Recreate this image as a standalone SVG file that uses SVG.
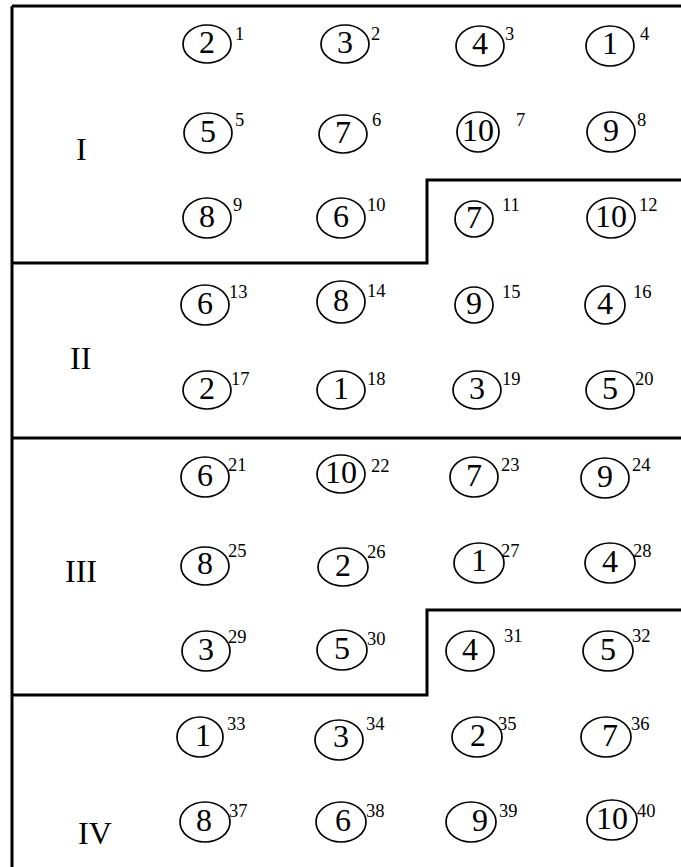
<svg xmlns="http://www.w3.org/2000/svg" width="681" height="867" viewBox="0 0 681 867">
<style>
.b{fill:none;stroke:#000;stroke-width:3}
.e{fill:none;stroke:#000;stroke-width:1.7}
.d{font-family:"Liberation Serif","Times New Roman",serif;font-size:32px;text-anchor:middle;fill:#000}
.s{font-family:"Liberation Serif","Times New Roman",serif;font-size:18.5px;fill:#000}
.r{font-family:"Liberation Serif","Times New Roman",serif;font-size:32px;fill:#000}
</style>
<rect width="681" height="867" fill="#fff"/>
<g id="frame">
<path class="b" d="M12,6 H681 M12,6 V867"/>
<path class="b" d="M12,263 H427 V180 H681"/>
<path class="b" d="M12,438 H681"/>
<path class="b" d="M12,695 H427 V610 H681"/>
</g>
<g id="labels">
<text class="r" x="76" y="160">I</text>
<text class="r" x="70" y="369">II</text>
<text class="r" x="65" y="582">III</text>
<text class="r" x="78" y="844">IV</text>
</g>
<g id="n1"><ellipse class="e" cx="207" cy="44" rx="24" ry="19"/><text class="d" x="207" y="53">2</text><text class="s" x="235" y="40">1</text></g>
<g id="n2"><ellipse class="e" cx="345" cy="44" rx="24" ry="19"/><text class="d" x="345" y="53">3</text><text class="s" x="371" y="40">2</text></g>
<g id="n3"><ellipse class="e" cx="480" cy="46" rx="24" ry="20"/><text class="d" x="480" y="54">4</text><text class="s" x="505" y="40">3</text></g>
<g id="n4"><ellipse class="e" cx="610" cy="46" rx="24" ry="20"/><text class="d" x="610" y="54">1</text><text class="s" x="640" y="40">4</text></g>
<g id="n5"><ellipse class="e" cx="208" cy="133" rx="24" ry="20"/><text class="d" x="208" y="142">5</text><text class="s" x="235" y="126">5</text></g>
<g id="n6"><ellipse class="e" cx="343" cy="134" rx="24" ry="19"/><text class="d" x="343" y="143">7</text><text class="s" x="372" y="126">6</text></g>
<g id="n7"><ellipse class="e" cx="478" cy="132" rx="21" ry="20"/><text class="d" x="478" y="141">10</text><text class="s" x="516" y="126">7</text></g>
<g id="n8"><ellipse class="e" cx="611" cy="132" rx="24" ry="20"/><text class="d" x="611" y="141">9</text><text class="s" x="637" y="126">8</text></g>
<g id="n9"><ellipse class="e" cx="207" cy="218" rx="24" ry="20"/><text class="d" x="207" y="227">8</text><text class="s" x="233" y="211">9</text></g>
<g id="n10"><ellipse class="e" cx="341" cy="218" rx="24" ry="20"/><text class="d" x="341" y="227">6</text><text class="s" x="367" y="211">10</text></g>
<g id="n11"><ellipse class="e" cx="474" cy="219" rx="19" ry="18"/><text class="d" x="474" y="228">7</text><text class="s" x="502" y="211">11</text></g>
<g id="n12"><ellipse class="e" cx="611" cy="218" rx="24" ry="20"/><text class="d" x="611" y="227">10</text><text class="s" x="639" y="211">12</text></g>
<g id="n13"><ellipse class="e" cx="205" cy="305" rx="24" ry="20"/><text class="d" x="205" y="314">6</text><text class="s" x="229" y="298">13</text></g>
<g id="n14"><ellipse class="e" cx="341" cy="302" rx="24" ry="21"/><text class="d" x="341" y="311">8</text><text class="s" x="367" y="297">14</text></g>
<g id="n15"><ellipse class="e" cx="474" cy="305" rx="19" ry="18"/><text class="d" x="474" y="314">9</text><text class="s" x="502" y="298">15</text></g>
<g id="n16"><ellipse class="e" cx="605" cy="305" rx="20" ry="19"/><text class="d" x="605" y="314">4</text><text class="s" x="633" y="298">16</text></g>
<g id="n17"><ellipse class="e" cx="207" cy="390" rx="24" ry="19"/><text class="d" x="207" y="399">2</text><text class="s" x="231" y="385">17</text></g>
<g id="n18"><ellipse class="e" cx="341" cy="390" rx="24" ry="19"/><text class="d" x="341" y="399">1</text><text class="s" x="367" y="385">18</text></g>
<g id="n19"><ellipse class="e" cx="477" cy="390" rx="24" ry="19"/><text class="d" x="477" y="399">3</text><text class="s" x="502" y="385">19</text></g>
<g id="n20"><ellipse class="e" cx="610" cy="390" rx="24" ry="19"/><text class="d" x="610" y="399">5</text><text class="s" x="635" y="385">20</text></g>
<g id="n21"><ellipse class="e" cx="205" cy="477" rx="24" ry="20"/><text class="d" x="205" y="486">6</text><text class="s" x="228" y="471">21</text></g>
<g id="n22"><ellipse class="e" cx="341" cy="474" rx="24" ry="19"/><text class="d" x="341" y="483">10</text><text class="s" x="371" y="472">22</text></g>
<g id="n23"><ellipse class="e" cx="474" cy="477" rx="24" ry="20"/><text class="d" x="474" y="486">7</text><text class="s" x="501" y="471">23</text></g>
<g id="n24"><ellipse class="e" cx="605" cy="478" rx="24" ry="20"/><text class="d" x="605" y="487">9</text><text class="s" x="632" y="471">24</text></g>
<g id="n25"><ellipse class="e" cx="205" cy="566" rx="24" ry="19"/><text class="d" x="205" y="574">8</text><text class="s" x="228" y="557">25</text></g>
<g id="n26"><ellipse class="e" cx="343" cy="567" rx="25" ry="19"/><text class="d" x="343" y="576">2</text><text class="s" x="367" y="558">26</text></g>
<g id="n27"><ellipse class="e" cx="479" cy="563" rx="25" ry="20"/><text class="d" x="479" y="571">1</text><text class="s" x="501" y="557">27</text></g>
<g id="n28"><ellipse class="e" cx="610" cy="563" rx="25" ry="20"/><text class="d" x="610" y="572">4</text><text class="s" x="633" y="557">28</text></g>
<g id="n29"><ellipse class="e" cx="206" cy="651" rx="24" ry="20"/><text class="d" x="206" y="660">3</text><text class="s" x="228" y="643">29</text></g>
<g id="n30"><ellipse class="e" cx="342" cy="650" rx="25" ry="20"/><text class="d" x="342" y="659">5</text><text class="s" x="367" y="645">30</text></g>
<g id="n31"><ellipse class="e" cx="470" cy="651" rx="24" ry="20"/><text class="d" x="470" y="660">4</text><text class="s" x="504" y="642">31</text></g>
<g id="n32"><ellipse class="e" cx="608" cy="651" rx="25" ry="20"/><text class="d" x="608" y="660">5</text><text class="s" x="632" y="642">32</text></g>
<g id="n33"><ellipse class="e" cx="200" cy="737" rx="23" ry="20"/><text class="d" x="203" y="746">1</text><text class="s" x="227" y="730">33</text></g>
<g id="n34"><ellipse class="e" cx="339" cy="740" rx="24" ry="20"/><text class="d" x="341" y="747">3</text><text class="s" x="366" y="730">34</text></g>
<g id="n35"><ellipse class="e" cx="477" cy="737" rx="25" ry="20"/><text class="d" x="478" y="746">2</text><text class="s" x="498" y="730">35</text></g>
<g id="n36"><ellipse class="e" cx="606" cy="737" rx="25" ry="20"/><text class="d" x="610" y="746">7</text><text class="s" x="631" y="730">36</text></g>
<g id="n37"><ellipse class="e" cx="205" cy="822" rx="25" ry="20"/><text class="d" x="204" y="831">8</text><text class="s" x="229" y="817">37</text></g>
<g id="n38"><ellipse class="e" cx="341" cy="822" rx="25" ry="20"/><text class="d" x="343" y="831">6</text><text class="s" x="366" y="817">38</text></g>
<g id="n39"><ellipse class="e" cx="471" cy="822" rx="25" ry="20"/><text class="d" x="480" y="831">9</text><text class="s" x="499" y="817">39</text></g>
<g id="n40"><ellipse class="e" cx="612" cy="820" rx="25" ry="20"/><text class="d" x="612" y="829">10</text><text class="s" x="637" y="817">40</text></g>
</svg>
